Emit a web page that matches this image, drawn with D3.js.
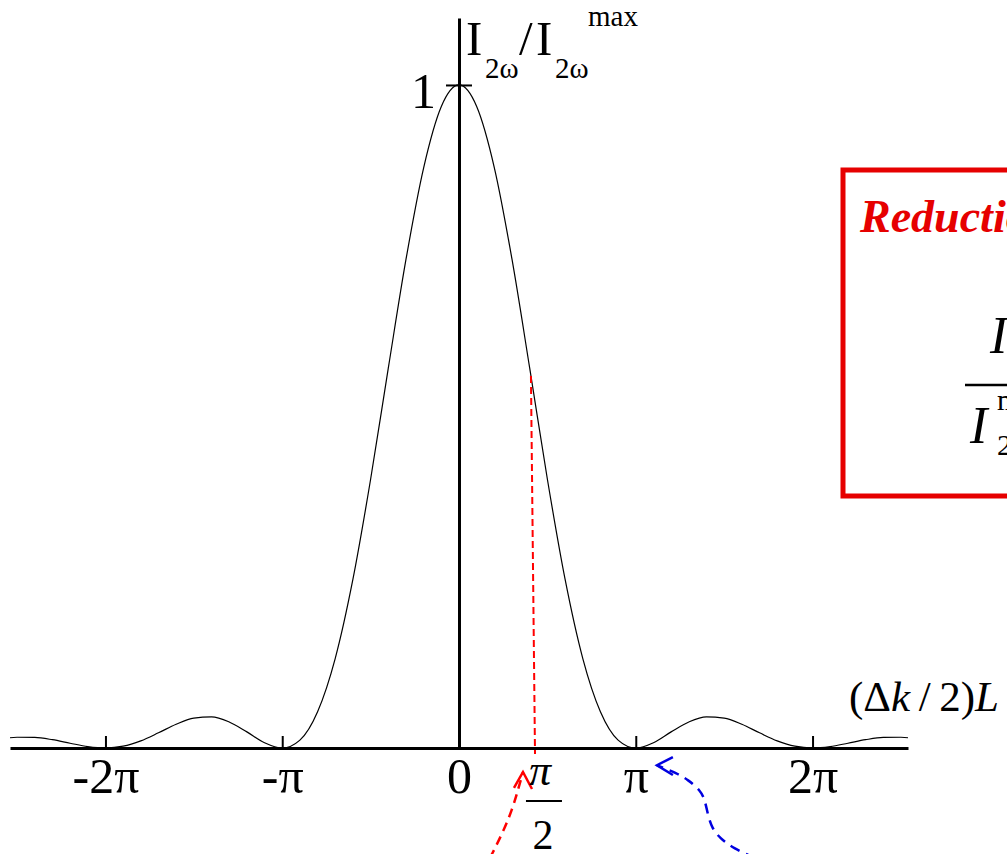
<!DOCTYPE html>
<html>
<head>
<meta charset="utf-8">
<script src="https://cdn.jsdelivr.net/npm/d3@7"></script>
<style>
    body { margin: 0; background: #fff; }
    svg { display: block; }
    text { font-family: "Liberation Serif", "Times New Roman", serif; }
</style>
</head>
<body>
<svg></svg>
<script>
// phase (Δk/2)L in units of π, and normalized SHG intensity
var phase = [-2.54, -2.5, -2.4, -2.3, -2.2, -2.1, -2.0, -1.9, -1.8, -1.7, -1.6, -1.5, -1.4, -1.3, -1.2, -1.1,
    -1.0, -0.9, -0.8, -0.7, -0.6, -0.5, -0.4, -0.3, -0.2, -0.1, 0,
    0.1, 0.2, 0.3, 0.4, 0.5, 0.6, 0.7, 0.8, 0.9, 1.0,
    1.1, 1.2, 1.3, 1.4, 1.5, 1.6, 1.7, 1.8, 1.9, 2.0, 2.1, 2.2, 2.3, 2.4, 2.5, 2.54];
var intensity = [0.0155, 0.0162, 0.0159, 0.0125, 0.0072, 0.0022, 0, 0.0027, 0.0108, 0.0229, 0.0358, 0.0450, 0.0468, 0.0392, 0.0243, 0.0080,
    0, 0.0119, 0.0547, 0.1353, 0.2546, 0.4053, 0.5728, 0.7368, 0.8751, 0.9675, 1,
    0.9675, 0.8751, 0.7368, 0.5728, 0.4053, 0.2546, 0.1353, 0.0547, 0.0119, 0,
    0.0080, 0.0243, 0.0392, 0.0468, 0.0450, 0.0358, 0.0229, 0.0108, 0.0027, 0, 0.0022, 0.0072, 0.0125, 0.0159, 0.0162, 0.0155];

var xTicks = [-2, -1, 0, 1, 2];
var xTickLabels = ["-2π", "-π", "0", "π", "2π"];
var yTicks = [1];

// dashed marker line at ~π/2 (phase, intensity)
var markPhase = [0.407, 0.430];
var markLevel = [0.561, -0.009];

// red arrow pointing at the π/2 label
var redArrowPhase = [0.175, 0.249, 0.300, 0.334, 0.362];
var redArrowLevel = [-0.166, -0.127, -0.0935, -0.0633, -0.0362];
var redHeadPhase = [0.311, 0.362, 0.413];
var redHeadLevel = [-0.0603, -0.0362, -0.0618];

// blue arrow pointing at π
var blueArrowPhase = [1.674, 1.550, 1.476, 1.431, 1.408, 1.391, 1.363, 1.295, 1.233, 1.148, 1.120];
var blueArrowLevel = [-0.166, -0.151, -0.136, -0.121, -0.101, -0.078, -0.063, -0.048, -0.038, -0.029, -0.026];
var blueHeadPhase = [1.210, 1.120, 1.210];
var blueHeadLevel = [-0.0136, -0.026, -0.0407];

var x, y;
var width = 1007, height = 854;
var serif = "Liberation Serif, Times New Roman, serif";

function toPoints(xs, ys) {
    return xs.map((d, i) => [x(d), y(ys[i])]);
}

function drawAxes(svg) {
    let gx = svg.append("g")
        .attr("transform", "translate(0," + y(0) + ")")
        .call(d3.axisBottom(x)
            .tickValues(xTicks)
            .tickSizeInner(-12)
            .tickSizeOuter(0)
            .tickPadding(9)
            .tickFormat((d, i) => xTickLabels[i]));
    gx.attr("font-family", serif).attr("font-size", 50);
    gx.select(".domain").attr("stroke-width", 3);
    gx.selectAll(".tick line").attr("stroke-width", 2);
    gx.selectAll(".tick text").attr("fill", "#000");

    let gy = svg.append("g")
        .attr("transform", "translate(" + x(0) + ",0)")
        .call(d3.axisLeft(y)
            .tickValues(yTicks)
            .tickSizeInner(13)
            .tickSizeOuter(0)
            .tickPadding(10)
            .tickFormat(d3.format("d")));
    gy.attr("font-family", serif).attr("font-size", 50);
    gy.select(".domain").attr("stroke-width", 3);
    gy.selectAll(".tick line").attr("x1", 13).attr("stroke-width", 2);
    gy.selectAll(".tick text").attr("dy", "0.45em").attr("fill", "#000");
}

function drawLabels(svg) {
    // y axis title  I_2ω / I_2ω^max
    let t = svg.append("text").attr("fill", "#000");
    t.append("tspan").attr("x", 466).attr("y", 55).attr("font-size", 49).text("I");
    t.append("tspan").attr("x", 485).attr("y", 78).attr("font-size", 29).text("2ω");
    t.append("tspan").attr("x", 519).attr("y", 55).attr("font-size", 49).text("/");
    t.append("tspan").attr("x", 536).attr("y", 55).attr("font-size", 49).text("I");
    t.append("tspan").attr("x", 555).attr("y", 78).attr("font-size", 29).text("2ω");
    t.append("tspan").attr("x", 588).attr("y", 26).attr("font-size", 29).text("max");

    // x axis title (Δk / 2)L
    let xt = svg.append("text")
        .attr("x", 999)
        .attr("y", 711)
        .attr("text-anchor", "end")
        .attr("font-size", 43)
        .attr("fill", "#000");
    xt.append("tspan").text("(Δ");
    xt.append("tspan").attr("font-style", "italic").text("k");
    xt.append("tspan").text("\u2009/\u20092)");
    xt.append("tspan").attr("font-style", "italic").text("L");

    // π/2 fraction under the axis
    let cx = x(0.475);
    svg.append("text")
        .attr("x", cx - 3).attr("y", 785)
        .attr("text-anchor", "middle")
        .attr("font-size", 44)
        .attr("font-style", "italic")
        .text("π");
    svg.append("line")
        .attr("x1", cx - 17).attr("x2", cx + 19)
        .attr("y1", 801).attr("y2", 801)
        .attr("stroke", "#000").attr("stroke-width", 2);
    svg.append("text")
        .attr("x", cx).attr("y", 849)
        .attr("text-anchor", "middle")
        .attr("font-size", 42)
        .text("2");
}

function drawBox(svg) {
    let red = "#e60000";
    svg.append("rect")
        .attr("x", 843).attr("y", 170)
        .attr("width", 300).attr("height", 326)
        .attr("fill", "none")
        .attr("stroke", red)
        .attr("stroke-width", 5);

    svg.append("text")
        .attr("x", 860).attr("y", 232)
        .attr("font-size", 46)
        .attr("font-weight", "bold")
        .attr("font-style", "italic")
        .attr("fill", red)
        .text("Reduction");

    // fraction I_2ω / I_2ω^max (mostly cut off by the page edge)
    let num = svg.append("text").attr("font-style", "italic").attr("fill", "#000");
    num.append("tspan").attr("x", 990).attr("y", 353).attr("font-size", 52).text("I");
    num.append("tspan").attr("x", 1012).attr("y", 366).attr("font-size", 30).attr("font-style", "normal").text("2ω");

    svg.append("line")
        .attr("x1", 965).attr("x2", 1020)
        .attr("y1", 385).attr("y2", 385)
        .attr("stroke", "#000").attr("stroke-width", 2.5);

    let den = svg.append("text").attr("fill", "#000");
    den.append("tspan").attr("x", 970).attr("y", 443).attr("font-size", 52).attr("font-style", "italic").text("I");
    den.append("tspan").attr("x", 997).attr("y", 410).attr("font-size", 30).text("max");
    den.append("tspan").attr("x", 997).attr("y", 455).attr("font-size", 30).text("2ω");
}

function drawArrows(svg) {
    let curve = d3.line().curve(d3.curveBasis);
    let straight = d3.line();

    svg.append("path")
        .attr("d", straight(toPoints(markPhase, markLevel)))
        .attr("fill", "none")
        .attr("stroke", "#ff0000")
        .attr("stroke-width", 2)
        .attr("stroke-dasharray", "7,4");

    svg.append("path")
        .attr("d", curve(toPoints(redArrowPhase, redArrowLevel)))
        .attr("fill", "none")
        .attr("stroke", "#ff0000")
        .attr("stroke-width", 2.5)
        .attr("stroke-dasharray", "9,6");
    svg.append("path")
        .attr("d", straight(toPoints(redHeadPhase, redHeadLevel)))
        .attr("fill", "none")
        .attr("stroke", "#ff0000")
        .attr("stroke-width", 2.5);

    svg.append("path")
        .attr("d", curve(toPoints(blueArrowPhase, blueArrowLevel)))
        .attr("fill", "none")
        .attr("stroke", "#0000e0")
        .attr("stroke-width", 2.5)
        .attr("stroke-dasharray", "10,7");
    svg.append("path")
        .attr("d", straight(toPoints(blueHeadPhase, blueHeadLevel)))
        .attr("fill", "none")
        .attr("stroke", "#0000e0")
        .attr("stroke-width", 2.5);
}

function init() {
    let svg = d3.select("svg")
        .attr("width", width)
        .attr("height", height);

    x = d3.scaleLinear().domain([-2.54, 2.54]).range([10, 908]);
    y = d3.scaleLinear().domain([0, 1.101]).range([748, 18]);

    // the sinc^2 curve
    svg.append("path")
        .datum(phase.map((p, i) => ({ p: p, v: intensity[i] })))
        .attr("fill", "none")
        .attr("stroke", "#000")
        .attr("stroke-width", 1.2)
        .attr("d", d3.line()
            .x(d => x(d.p))
            .y(d => y(d.v))
            .curve(d3.curveMonotoneX));

    drawAxes(svg);
    drawArrows(svg);
    drawLabels(svg);
    drawBox(svg);
}

init();
</script>
</body>
</html>
